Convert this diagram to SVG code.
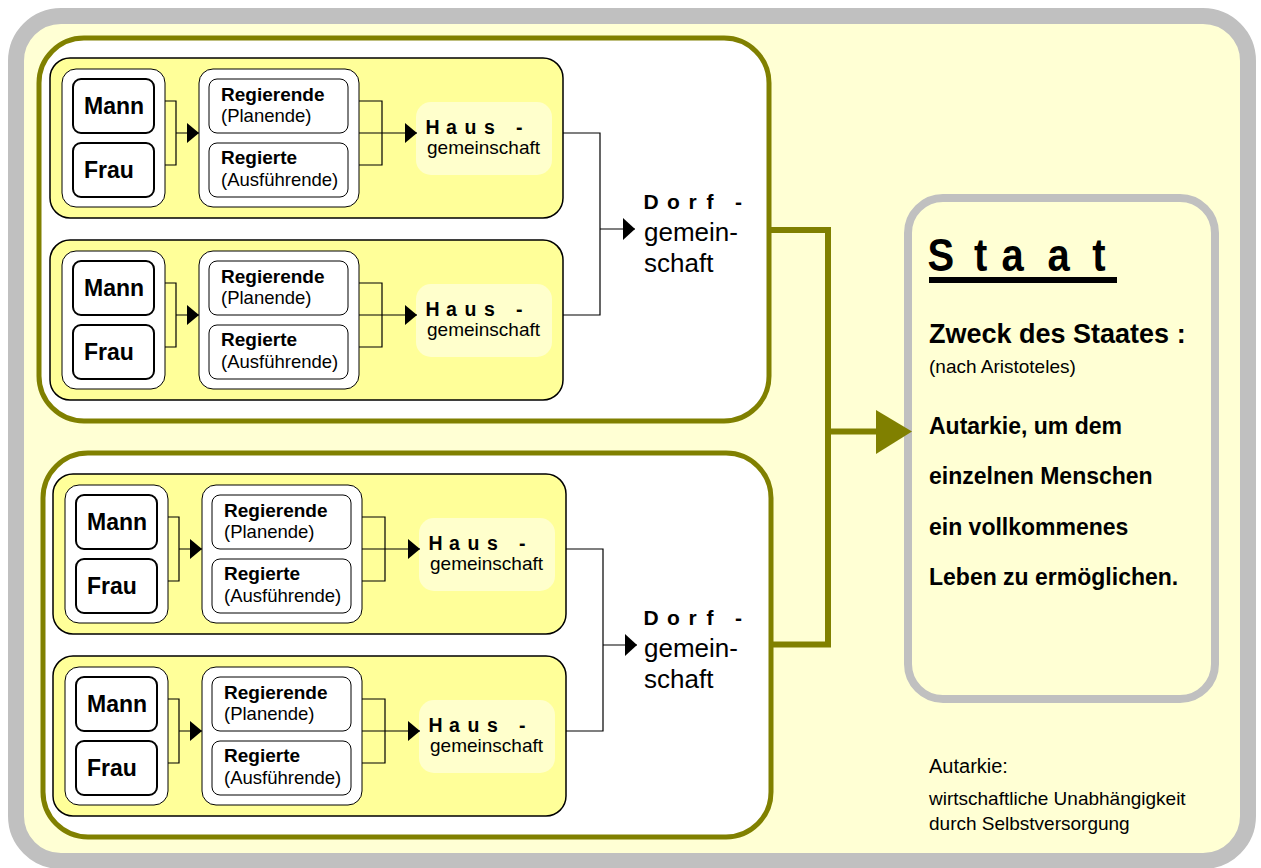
<svg xmlns="http://www.w3.org/2000/svg" width="1261" height="868" viewBox="0 0 1261 868">
<defs>
<style>
.t{font-family:"Liberation Sans",Arial,sans-serif;fill:#000}
.b{font-weight:bold}
.house{fill:#FFFF99;stroke:#000;stroke-width:1.5}
.cont{fill:#fff;stroke:#000;stroke-width:1}
.mbox{fill:#fff;stroke:#000;stroke-width:2}
.rbox{fill:#fff;stroke:#000;stroke-width:1}
.hlab{fill:#FFFFCC}
.frame{fill:#fff;stroke:#808000;stroke-width:5}
.ln{fill:none;stroke:#000;stroke-width:1.2}
.ol{fill:none;stroke:#808000;stroke-width:6}
</style>
<marker id="ah" markerUnits="userSpaceOnUse" markerWidth="12" markerHeight="20" refX="12" refY="10" orient="auto">
<path d="M0,0 L12,10 L0,20 z" fill="#000"/>
</marker>
<marker id="ah2" markerUnits="userSpaceOnUse" markerWidth="12" markerHeight="22" refX="12" refY="11" orient="auto">
<path d="M0,0 L12,11 L0,22 z" fill="#000"/>
</marker>
<g id="houseT">
<rect class="house" x="50" y="58" width="513" height="160" rx="20"/>
<rect class="cont" x="62" y="69" width="103" height="138" rx="14"/>
<rect class="mbox" x="73" y="79" width="81" height="54" rx="8"/>
<rect class="mbox" x="73" y="143" width="81" height="54" rx="8"/>
<text class="t b" x="84" y="114" font-size="23">Mann</text>
<text class="t b" x="84" y="178" font-size="23">Frau</text>
<rect class="cont" x="199" y="69" width="160" height="138" rx="14"/>
<rect class="rbox" x="209" y="79" width="139" height="54" rx="8"/>
<rect class="rbox" x="209" y="143" width="139" height="54" rx="8"/>
<text class="t b" x="221" y="101" font-size="19">Regierende</text>
<text class="t" x="221" y="122" font-size="18.5">(Planende)</text>
<text class="t b" x="221" y="164" font-size="19">Regierte</text>
<text class="t" x="221" y="186" font-size="18.5">(Ausführende)</text>
<rect class="hlab" x="416" y="102" width="136" height="73" rx="15"/>
<text class="t b" x="425.5 440 446 458 464.5 477 484 497 516" y="134" font-size="19.5">H a u s -</text>
<text class="t" x="427" y="154" font-size="19">gemeinschaft</text>
</g>
<g id="connT">
<path class="ln" d="M165,101 H176 V165 H165 M176,133 H199" marker-end="url(#ah)"/>
<path class="ln" d="M359,101 H382 V165 H359"/>
<path class="ln" d="M359,133 H417" marker-end="url(#ah)"/>
</g>
</defs>

<rect id="outer" x="16" y="16" width="1232" height="845" rx="45" fill="#FFFFD4" stroke="#C0C0C0" stroke-width="16"/>

<g id="dorf1">
<rect class="frame" x="39" y="38" width="730" height="383" rx="45"/>
<text class="t b" x="643.5 660 667 682 688.5 700 706.5 716 735" y="209" font-size="21">D o r f -</text>
<text class="t" x="644" y="241" font-size="26">gemein-</text>
<text class="t" x="644" y="272" font-size="26">schaft</text>
</g>
<g id="dorf2">
<rect class="frame" x="43" y="453" width="728" height="384" rx="45"/>
<text class="t b" x="643.5 660 667 682 688.5 700 706.5 716 735" y="625" font-size="21">D o r f -</text>
<text class="t" x="644" y="657" font-size="26">gemein-</text>
<text class="t" x="644" y="688" font-size="26">schaft</text>
</g>

<g id="haus1"><use href="#houseT"/></g>
<g id="haus2"><use href="#houseT" transform="translate(0,182)"/></g>
<g id="haus3"><use href="#houseT" transform="translate(3,416)"/></g>
<g id="haus4"><use href="#houseT" transform="translate(3,598)"/></g>

<g id="staat">
<rect x="908" y="198" width="307" height="501" rx="35" fill="#FFFFD4" stroke="#C0C0C0" stroke-width="8"/>
<g transform="translate(929,271) scale(0.85,1)">
<text class="t b" x="-1.8 30 53 70 85.2 112 139.4 166 192" y="0" font-size="47">S t a a t</text>
</g>
<rect x="929" y="277" width="188" height="6" fill="#000"/>
<text class="t b" x="929" y="343" font-size="27">Zweck des Staates :</text>
<text class="t" x="929" y="373" font-size="19">(nach Aristoteles)</text>
<text class="t b" x="929" y="434" font-size="23">Autarkie, um dem</text>
<text class="t b" x="929" y="484" font-size="23">einzelnen Menschen</text>
<text class="t b" x="929" y="535" font-size="23">ein vollkommenes</text>
<text class="t b" x="929" y="585" font-size="23">Leben zu ermöglichen.</text>
</g>

<g id="note">
<text class="t" x="929" y="773" font-size="20">Autarkie:</text>
<text class="t" x="929" y="805" font-size="19">wirtschaftliche Unabhängigkeit</text>
<text class="t" x="929" y="830" font-size="19">durch Selbstversorgung</text>
</g>

<g id="connectors">
<use href="#connT"/>
<use href="#connT" transform="translate(0,182)"/>
<use href="#connT" transform="translate(3,416)"/>
<use href="#connT" transform="translate(3,598)"/>
<path class="ln" d="M563,133 H600 V315 H563"/>
<path class="ln" d="M600,229 H635" marker-end="url(#ah2)"/>
<path class="ln" d="M566,549 H603 V731 H566"/>
<path class="ln" d="M603,645 H637" marker-end="url(#ah2)"/>
<path class="ol" d="M769,230 H828 V644.5 H771"/>
<path class="ol" d="M828,431.5 H878"/>
<polygon points="876,410 912,431.5 876,454" fill="#808000"/>
</g>
</svg>
